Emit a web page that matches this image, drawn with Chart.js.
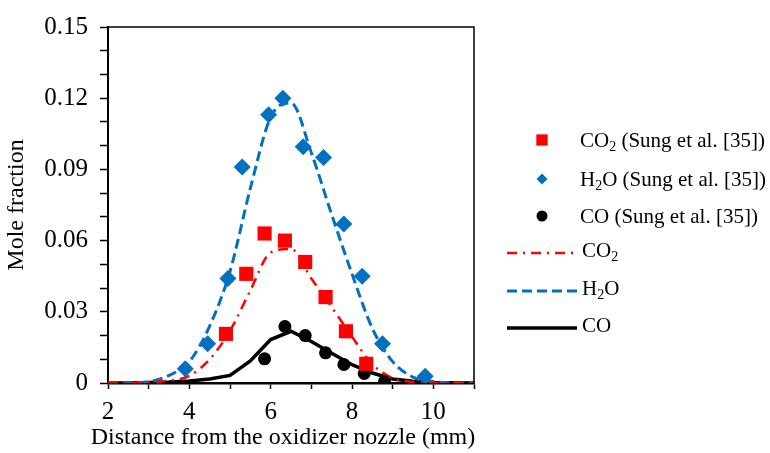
<!DOCTYPE html>
<html>
<head>
<meta charset="utf-8">
<script src="https://cdn.jsdelivr.net/npm/chart.js@4"></script>
<style>
  body { margin: 0; background: #fff; }
  #wrap { width: 770px; height: 453px; }
</style>
</head>
<body>
<div id="wrap"><canvas id="chart" width="770" height="453"></canvas></div>
<script>
// Simulation (lines), x in mm
const simX = [2, 2.5, 3, 3.5, 4, 4.5, 5, 5.5, 6, 6.5, 7, 7.5, 8, 8.5, 9, 9.5, 10, 10.5, 11];
const simH2O = [0, 0.0001, 0.0005, 0.0032, 0.009, 0.024, 0.047, 0.082, 0.112, 0.118, 0.097, 0.071, 0.046, 0.023, 0.009, 0.0025, 0.0006, 0.0001, 0];
const simCO2 = [0, 0, 0.0002, 0.001, 0.003, 0.010, 0.022, 0.039, 0.055, 0.0565, 0.044, 0.032, 0.0195, 0.008, 0.002, 0.0005, 0.0001, 0, 0];
const simCO = [0, 0, 0.0002, 0.0004, 0.0008, 0.0017, 0.0032, 0.0093, 0.0183, 0.0218, 0.0175, 0.0125, 0.0077, 0.0042, 0.0017, 0.0007, 0.0002, 0.0001, 0];

// Experiments (Sung et al. [35])
const expH2OX = [3.9, 4.45, 4.95, 5.3, 5.95, 6.3, 6.8, 7.3, 7.8, 8.25, 8.75, 9.8];
const expH2OY = [0.006, 0.0165, 0.044, 0.091, 0.113, 0.12, 0.0995, 0.095, 0.067, 0.045, 0.0165, 0.0028];
const expCO2X = [4.9, 5.4, 5.85, 6.35, 6.85, 7.35, 7.85, 8.35];
const expCO2Y = [0.0207, 0.046, 0.063, 0.06, 0.051, 0.0362, 0.0218, 0.0081];
const expCOX = [5.85, 6.35, 6.85, 7.35, 7.8, 8.3, 8.8];
const expCOY = [0.0102, 0.0238, 0.02, 0.0127, 0.0078, 0.004, 0.0006];

const X_TITLE = "Distance from the oxidizer nozzle (mm)";
const FONT = '"Liberation Serif", "Times New Roman", serif';
const RED = "#FF0000";
const BLUE = "#0070C0";

function pts(xs, ys) {
  return xs.map((x, i) => ({ x: x, y: ys[i] }));
}

// texte avec indice (CO2, H2O)
function drawRich(ctx, parts, x, y, size) {
  ctx.textBaseline = "middle";
  ctx.textAlign = "left";
  ctx.fillStyle = "#000";
  parts.forEach((p) => {
    const sub = p[1];
    ctx.font = (sub ? Math.round(size * 0.65) : size) + "px " + FONT;
    ctx.fillText(p[0], x, sub ? y + size * 0.28 : y);
    x += ctx.measureText(p[0]).width;
  });
}

const legendItems = [
  { kind: "point", ds: 3, y: 140, parts: [["CO", false], ["2", true], [" (Sung et al. [35])", false]] },
  { kind: "point", ds: 4, y: 179, parts: [["H", false], ["2", true], ["O (Sung et al. [35])", false]] },
  { kind: "point", ds: 5, y: 216, parts: [["CO (Sung et al. [35])", false]] },
  { kind: "line", ds: 0, y: 253, parts: [["CO", false], ["2", true]] },
  { kind: "line", ds: 1, y: 291, parts: [["H", false], ["2", true], ["O", false]] },
  { kind: "line", ds: 2, y: 328, parts: [["CO", false]] },
];

const framePlugin = {
  id: "frame",
  afterDraw(chart) {
    const { ctx, chartArea: a } = chart;
    ctx.save();
    ctx.strokeStyle = "#000";
    ctx.lineWidth = 1.5;
    ctx.beginPath();
    ctx.moveTo(a.left, a.top);
    ctx.lineTo(a.right, a.top);
    ctx.lineTo(a.right, a.bottom);
    ctx.stroke();

    // titre de l'axe x (plus large que l'axe, donc dessiné ici)
    ctx.fillStyle = "#000";
    ctx.font = "24px " + FONT;
    ctx.textAlign = "center";
    ctx.textBaseline = "middle";
    ctx.fillText(X_TITLE, 283, 438);

    // légende
    legendItems.forEach((item) => {
      const ds = chart.data.datasets[item.ds];
      if (item.kind === "point") {
        ctx.fillStyle = ds.backgroundColor;
        ctx.strokeStyle = ds.borderColor;
        Chart.helpers.drawPoint(ctx, {
          pointStyle: ds.pointStyle,
          radius: ds.legendRadius,
          borderWidth: 0,
          rotation: 0,
        }, 542, item.y);
        drawRich(ctx, item.parts, 580, item.y + 1, 21);
      } else {
        ctx.strokeStyle = ds.borderColor;
        ctx.lineWidth = ds.borderWidth;
        ctx.setLineDash(ds.borderDash || []);
        ctx.beginPath();
        ctx.moveTo(507, item.y);
        ctx.lineTo(577, item.y);
        ctx.stroke();
        ctx.setLineDash([]);
        drawRich(ctx, item.parts, 582, item.y - 2, 21);
      }
    });
    ctx.restore();
  },
};

new Chart(document.getElementById("chart"), {
  type: "scatter",
  data: {
    datasets: [
      {
        label: "CO2",
        data: pts(simX, simCO2),
        showLine: true,
        pointRadius: 0,
        borderColor: RED,
        borderWidth: 2.5,
        borderDash: [10, 6, 2, 6],
        cubicInterpolationMode: "monotone",
        order: 2,
      },
      {
        label: "H2O",
        data: pts(simX, simH2O),
        showLine: true,
        pointRadius: 0,
        borderColor: BLUE,
        borderWidth: 3,
        borderDash: [10, 5],
        cubicInterpolationMode: "monotone",
        order: 2,
      },
      {
        label: "CO",
        data: pts(simX, simCO),
        showLine: true,
        pointRadius: 0,
        borderColor: "#000",
        borderWidth: 3.5,
        tension: 0,
        order: 2,
      },
      {
        label: "CO2 (Sung et al. [35])",
        data: pts(expCO2X, expCO2Y),
        pointStyle: "rect",
        pointRadius: 10,
        legendRadius: 8,
        backgroundColor: RED,
        borderColor: RED,
        borderWidth: 0,
        order: 1,
      },
      {
        label: "H2O (Sung et al. [35])",
        data: pts(expH2OX, expH2OY),
        pointStyle: "rectRot",
        pointRadius: 8.5,
        legendRadius: 5.5,
        backgroundColor: BLUE,
        borderColor: BLUE,
        borderWidth: 0,
        order: 1,
      },
      {
        label: "CO (Sung et al. [35])",
        data: pts(expCOX, expCOY),
        pointStyle: "circle",
        pointRadius: 6.5,
        legendRadius: 5.5,
        backgroundColor: "#000",
        borderColor: "#000",
        borderWidth: 0,
        order: 1,
      },
    ],
  },
  options: {
    responsive: false,
    animation: false,
    layout: { padding: { left: 0, top: 19, right: 296, bottom: 0 } },
    plugins: {
      legend: { display: false },
      tooltip: { enabled: false },
    },
    scales: {
      x: {
        type: "linear",
        min: 2,
        max: 11,
        afterFit: (s) => { s.height = 70; },
        ticks: {
          stepSize: 1,
          color: "#000",
          font: { family: FONT, size: 25 },
          padding: 8,
          maxRotation: 0,
          autoSkip: false,
          callback: (v) => (v % 2 === 0 ? String(v) : ""),
        },
        grid: { drawOnChartArea: false, drawTicks: true, tickLength: 6, color: "#000", tickWidth: 1.5 },
        border: { display: true, color: "#000", width: 2.5 },
        title: { display: false },
      },
      y: {
        min: 0,
        max: 0.15,
        afterFit: (s) => { s.width = 108; },
        ticks: {
          stepSize: 0.01,
          color: "#000",
          font: { family: FONT, size: 25 },
          padding: 12,
          autoSkip: false,
          callback: (v) => {
            const k = Math.round(v * 100);
            if (k % 3 !== 0) return "";
            return k === 0 ? "0" : (k / 100).toFixed(2);
          },
        },
        grid: { drawOnChartArea: false, drawTicks: true, tickLength: 8, color: "#000", tickWidth: 1.5 },
        border: { display: true, color: "#000", width: 2 },
        title: {
          display: true,
          text: "Mole fraction",
          color: "#000",
          font: { family: FONT, size: 24 },
          padding: { top: 2, bottom: 0 },
        },
      },
    },
  },
  plugins: [framePlugin],
});
</script>
</body>
</html>
